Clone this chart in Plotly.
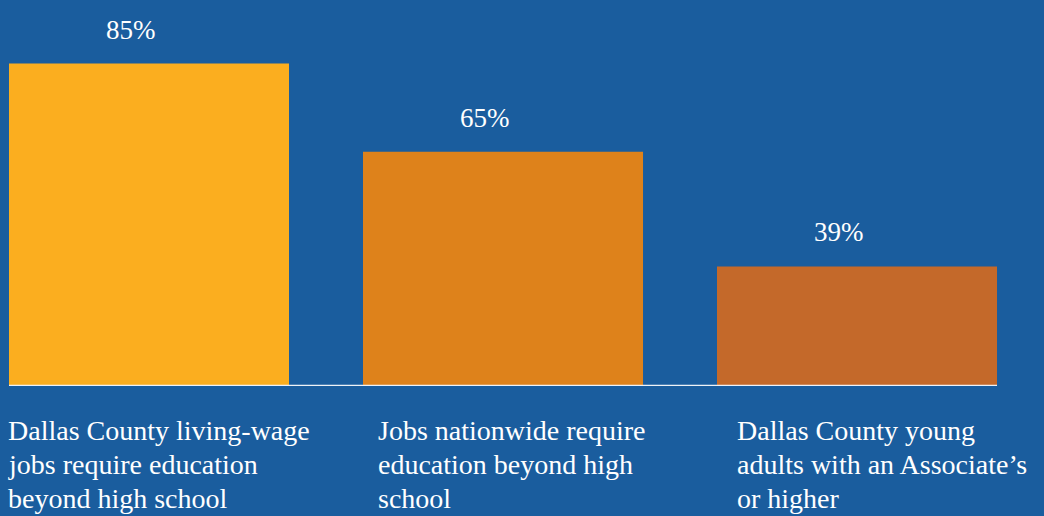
import plotly.graph_objects as go

# Share of jobs / adults, in percent
categories = [
    "Dallas County living-wage<br>jobs require education<br>beyond high school",
    "Jobs nationwide require<br>education beyond high<br>school",
    "Dallas County young<br>adults with an Associate’s<br>or higher",
]
values = [85, 65, 39]
value_labels = ["85%", "65%", "39%"]
bar_colors = ["#FBAE1F", "#DE821B", "#C4692A"]

BG = "#1A5D9E"
FONT = "Liberation Serif, Times New Roman, serif"
bar_width = 0.791
positions = list(range(len(values)))
label_nudge = [0, 16, 21]  # horizontal indent of each caption from its bar edge
line_step = 34             # caption line spacing in px

fig = go.Figure()
fig.add_trace(go.Bar(
    x=positions,
    y=values,
    width=bar_width,
    marker=dict(color=bar_colors, line=dict(width=0)),
    hoverinfo="skip",
))

y_floor = 11.9
# white baseline under the bars
fig.add_shape(
    type="line", xref="x", yref="y",
    x0=positions[0] - bar_width / 2, x1=positions[-1] + bar_width / 2,
    y0=y_floor, y1=y_floor,
    line=dict(color="#EEF2F7", width=2.5),
)

for i, (v, lab) in enumerate(zip(values, value_labels)):
    fig.add_annotation(
        x=positions[i], y=v, xref="x", yref="y",
        text=lab, showarrow=False,
        xanchor="center", yanchor="bottom",
        xshift=-18, yshift=17,
        font=dict(family=FONT, size=27, color="white"),
    )

# multi-line captions under each bar, one annotation per line
for i, cat in enumerate(categories):
    for k, line in enumerate(cat.split("<br>")):
        fig.add_annotation(
            x=positions[i] - bar_width / 2, y=0, xref="x", yref="paper",
            text=line, showarrow=False, align="left",
            xanchor="left", yanchor="top",
            xshift=label_nudge[i] - 3, yshift=-27 - line_step * k,
            font=dict(family=FONT, size=28, color="white"),
        )

fig.update_layout(
    width=1044, height=516,
    margin=dict(l=0, r=0, t=0, b=130),
    paper_bgcolor=BG, plot_bgcolor=BG,
    showlegend=False,
    xaxis=dict(range=[-0.4209, 2.5282], visible=False, fixedrange=True),
    yaxis=dict(range=[y_floor, 99.4], visible=False, fixedrange=True),
)

fig.write_html("out.html")
